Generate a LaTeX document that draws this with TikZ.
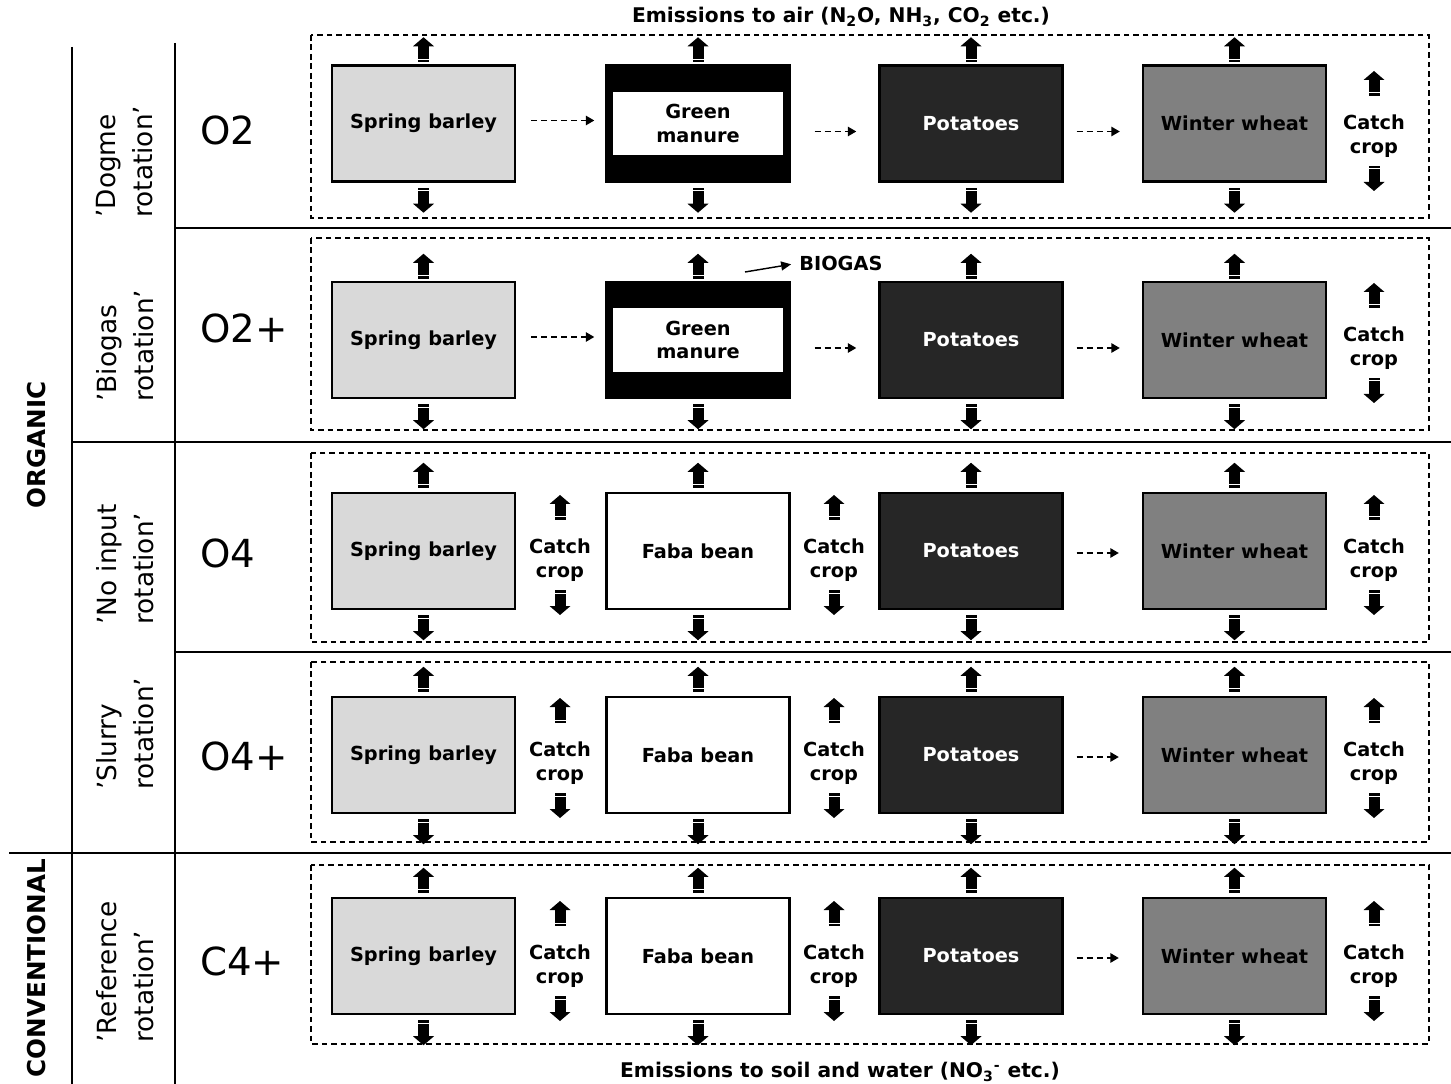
\documentclass[tikz,border=0pt]{standalone}
\usepackage{fontspec}
\setmainfont{DejaVu Sans}
\usepackage{tikz}
\usetikzlibrary{arrows.meta,positioning,calc}

\begin{document}
\begin{tikzpicture}[
    x=0.02cm, y=-0.02cm,
    crop/.style={draw=black, line width=1.4pt, minimum width=3.66cm, minimum height=2.32cm, inner sep=2pt, align=center, font=\bfseries\fontsize{11}{13.5}\selectfont},
    barley/.style={crop, fill=black!15},
    bean/.style={crop, fill=white},
    potato/.style={crop, fill=black!85, text=white},
    wheat/.style={crop, fill=black!50},
    manure/.style={crop, fill=black},
    manurein/.style={fill=white, minimum width=3.4cm, minimum height=1.28cm, inner sep=0pt, align=center, font=\bfseries\fontsize{11}{13.5}\selectfont},
    catch/.style={align=center, inner sep=0pt, font=\bfseries\fontsize{11}{13.5}\selectfont},
    code/.style={anchor=west, inner sep=0pt, font=\fontsize{22}{26}\selectfont},
    rotlabel/.style={rotate=90, anchor=west, align=left, inner sep=0pt, font=\fontsize{15}{21}\selectfont},
    group/.style={rotate=90, inner sep=0pt, font=\bfseries\fontsize{14}{16}\selectfont},
    title/.style={inner sep=0pt, font=\bfseries\fontsize{11.5}{13}\selectfont},
    frame/.style={line width=0.6pt, dash pattern=on 3.2pt off 2.2pt},
    grid/.style={line width=0.9pt},
    flow/.style={-{Triangle[length=1.7mm,width=1.9mm]}, line width=0.8pt, dash pattern=on 3.3pt off 2.4pt},
    emis/.pic={
      \fill (-5.5,0) rectangle (5.5,-2.5);
      \fill (-5.5,-3.5) rectangle (5.5,-16);
      \fill (-10.5,-16) -- (10.5,-16) -- (0,-25) -- cycle;
    }
  ]
    \useasboundingbox (0,0) rectangle (1451,1084);

    % table lines
    \draw[grid] (72,47) -- (72,1084);
    \draw[grid] (175,43) -- (175,1084);
    \draw[grid] (175,228) -- (1451,228);
    \draw[grid] (72,442) -- (1451,442);
    \draw[grid] (175,652) -- (1451,652);
    \draw[grid] (9,853) -- (1451,853);

    \node[group] (org) at (37,445) {ORGANIC};
    \node[group] (conv) at (37,968) {CONVENTIONAL};

    \node[rotlabel] (lbl1) at (125,218) {’Dogme\\rotation’};
    \node[rotlabel] (lbl2) at (125,402) {’Biogas\\rotation’};
    \node[rotlabel] (lbl3) at (125,625) {’No input\\rotation’};
    \node[rotlabel] (lbl4) at (125,790) {’Slurry\\rotation’};
    \node[rotlabel] (lbl5) at (125,1043) {’Reference\\rotation’};

    \node[code] (code1) at (200,130) {O2};
    \node[code] (code2) at (200,328) {O2+};
    \node[code] (code3) at (200,553) {O4};
    \node[code] (code4) at (200,756) {O4+};
    \node[code] (code5) at (200,961) {C4+};

    % dashed system borders
    \foreach \t/\b in {35/218, 238/430, 453/642, 662/842, 865/1044}
      \draw[frame] (311,\t) rectangle (1429,\b);

    \node[title] (air) at (841,17) {Emissions to air (N\textsubscript{2}O, NH\textsubscript{3}, CO\textsubscript{2} etc.)};
    \node[title] (soil) at (840,1072) {Emissions to soil and water (NO\textsubscript{3}\textsuperscript{-} etc.)};

    % green manure rotations
    \foreach \r/\y/\c in {1/123.5/136, 2/340/348} {
      \node[barley] (sb\r) at (423.5,\y) {Spring barley};
      \node[manure] (gm\r) at (698,\y) {};
      \node[manurein] (gmt\r) at (gm\r) {Green\\manure};
      \node[potato] (po\r) at (971,\y) {Potatoes};
      \node[wheat] (ww\r) at (1234.5,\y) {Winter wheat};
      \node[catch] (cc\r) at (1374,\c) {Catch\\crop};
      \draw[flow] ($(sb\r.east)+(15,-3)$) -- ($(gm\r.west)+(-11,-3)$);
      \draw[flow] ($(gm\r.east)+(24,8)$) -- ($(po\r.west)+(-22,8)$);
      \draw[flow] ($(po\r.east)+(13,8)$) -- ($(ww\r.west)+(-22,8)$);
      \foreach \b in {sb,gm,po,ww} {
        \pic at ($(\b\r.north)+(0,-2)$) {emis};
        \pic[rotate=180] at ($(\b\r.south)+(0,5)$) {emis};
      }
      \pic at ($(cc\r)+(0,-40)$) {emis};
      \pic[rotate=180] at ($(cc\r)+(0,30)$) {emis};
    }

    % faba bean rotations
    \foreach \r/\y/\c in {3/551/560, 4/755/763, 5/956/966} {
      \node[barley] (sb\r) at (423.5,\y) {Spring barley};
      \node[bean] (fb\r) at (698,\y) {Faba bean};
      \node[potato] (po\r) at (971,\y) {Potatoes};
      \node[wheat] (ww\r) at (1234.5,\y) {Winter wheat};
      \node[catch] (cca\r) at (560,\c) {Catch\\crop};
      \node[catch] (ccb\r) at (834,\c) {Catch\\crop};
      \node[catch] (cc\r) at (1374,\c) {Catch\\crop};
      \draw[flow] ($(po\r.east)+(13,2)$) -- ($(ww\r.west)+(-23,2)$);
      \foreach \b in {sb,fb,po,ww} {
        \pic at ($(\b\r.north)+(0,-4)$) {emis};
        \pic[rotate=180] at ($(\b\r.south)+(0,5)$) {emis};
      }
      \foreach \b in {cca,ccb,cc} {
        \pic at ($(\b\r)+(0,-40)$) {emis};
        \pic[rotate=180] at ($(\b\r)+(0,30)$) {emis};
      }
    }

    % biogas output
    \node[title, font=\bfseries\fontsize{11}{13}\selectfont, anchor=west] (biogas) at (799,263) {BIOGAS};
    \coordinate (bgfrom) at (745,272);
    \draw[-{Triangle[length=2mm,width=1.8mm]}, line width=0.8pt, shorten >=0.16cm] (bgfrom) -- (biogas.west);
  \end{tikzpicture}
\end{document}
